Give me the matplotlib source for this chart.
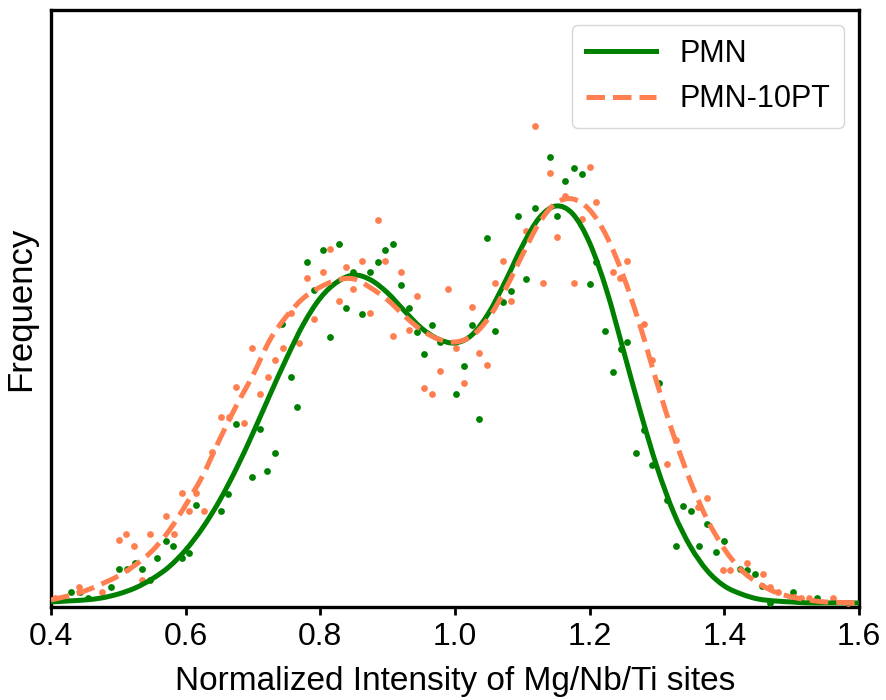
import numpy as np
import matplotlib
matplotlib.use("Agg")
from matplotlib import pyplot as plt
from matplotlib.path import Path
from matplotlib.patches import PathPatch
from matplotlib.lines import Line2D

plt.rcParams['font.family'] = ['Liberation Sans', 'DejaVu Sans']

# fitted curves, every 0.025
curve_x = [0.400, 0.425, 0.450, 0.475, 0.500, 0.525, 0.550, 0.575, 0.600, 0.625,
           0.650, 0.675, 0.700, 0.725, 0.750, 0.775, 0.800, 0.825, 0.850, 0.875,
           0.900, 0.925, 0.950, 0.975, 1.000, 1.025, 1.050, 1.075, 1.100, 1.125,
           1.150, 1.175, 1.200, 1.225, 1.250, 1.275, 1.300, 1.325, 1.350, 1.375,
           1.400, 1.425, 1.450, 1.475, 1.500, 1.525, 1.550, 1.575, 1.600]
pmn_fit = [0.1, 0.2, 0.3, 0.5, 0.9, 1.5, 2.4, 3.6, 5.3, 7.5,
           10.2, 13.4, 17.0, 20.8, 24.5, 27.9, 30.5, 32.1, 32.8, 32.3,
           31.0, 29.2, 27.5, 26.4, 26.0, 26.8, 29.0, 32.2, 35.7, 38.5,
           39.7, 38.9, 36.0, 31.3, 25.3, 19.2, 13.6, 9.0, 5.6, 3.2,
           1.7, 0.9, 0.4, 0.2, 0.1, 0.0, 0.0, 0.0, 0.0]
pt_fit = [0.3, 0.7, 1.2, 1.9, 2.7, 3.8, 5.2, 7.2, 9.8, 12.7,
          16.3, 19.7, 22.8, 26.3, 28.7, 30.5, 31.6, 32.3, 32.4, 31.5,
          30.3, 28.7, 27.3, 26.4, 26.1, 26.7, 28.5, 31.4, 34.8, 38.0,
          40.0, 40.4, 39.3, 36.7, 32.7, 27.7, 22.0, 16.7, 12.1, 8.3,
          5.4, 3.3, 2.0, 1.1, 0.6, 0.3, 0.1, 0.05, 0.0]

# histogram points
pmn_x = [0.429, 0.443, 0.455, 0.489, 0.501, 0.513, 0.524, 0.535, 0.547, 0.558,
         0.571, 0.581, 0.594, 0.605, 0.616, 0.652, 0.663, 0.675, 0.699, 0.710,
         0.721, 0.733, 0.743, 0.757, 0.766, 0.780, 0.791, 0.804, 0.815, 0.827,
         0.838, 0.849, 0.862, 0.874, 0.885, 0.896, 0.908, 0.920, 0.932, 0.943,
         0.954, 0.966, 0.978, 1.001, 1.014, 1.025, 1.036, 1.047, 1.059, 1.072,
         1.083, 1.094, 1.105, 1.119, 1.141, 1.152, 1.163, 1.177, 1.188, 1.200,
         1.209, 1.223, 1.234, 1.246, 1.256, 1.269, 1.281, 1.292, 1.303, 1.315,
         1.328, 1.339, 1.351, 1.362, 1.374, 1.388, 1.399, 1.423, 1.433, 1.445,
         1.456, 1.468, 1.502, 1.538]
pmn_y = [1.1, 1.05, 0.5, 1.6, 3.4, 3.4, 4.0, 3.4, 2.3, 4.5,
         6.2, 5.7, 4.5, 5.0, 9.8, 9.2, 10.9, 17.9, 12.6, 17.4,
         13.2, 15.0, 27.9, 22.6, 19.6, 34.1, 31.3, 35.3, 26.6, 35.9,
         29.5, 33.1, 28.9, 33.1, 34.1, 35.3, 35.9, 31.8, 29.5, 27.1,
         24.9, 27.8, 26.1, 20.9, 23.7, 27.8, 18.4, 36.5, 27.2, 30.1,
         31.2, 38.7, 32.4, 39.5, 44.6, 38.7, 42.2, 43.5, 42.9, 31.9,
         34.1, 27.2, 23.1, 25.4, 26.1, 15.0, 17.3, 13.8, 22.0, 10.3,
         5.7, 9.7, 9.2, 5.7, 7.9, 5.1, 6.2, 3.4, 3.3, 2.85,
         1.65, 0.0, 1.1, 0.5]

pt_x = [0.406, 0.442, 0.475, 0.501, 0.512, 0.523, 0.535, 0.547, 0.571, 0.582,
        0.594, 0.605, 0.616, 0.627, 0.639, 0.652, 0.664, 0.675, 0.687, 0.699,
        0.710, 0.722, 0.733, 0.744, 0.757, 0.769, 0.780, 0.791, 0.804, 0.815,
        0.827, 0.838, 0.849, 0.862, 0.874, 0.885, 0.896, 0.908, 0.920, 0.932,
        0.943, 0.954, 0.966, 0.978, 0.989, 1.001, 1.014, 1.025, 1.036, 1.047,
        1.059, 1.072, 1.083, 1.105, 1.119, 1.130, 1.141, 1.152, 1.163, 1.177,
        1.188, 1.200, 1.210, 1.234, 1.245, 1.256, 1.281, 1.292, 1.315, 1.328,
        1.361, 1.374, 1.398, 1.409, 1.433, 1.457, 1.468, 1.479, 1.503, 1.514,
        1.526, 1.561, 1.583]
pt_y = [0.5, 1.6, 1.05, 6.3, 6.9, 5.7, 2.3, 6.9, 8.65, 6.9,
        11.0, 9.2, 11.0, 9.2, 15.1, 18.6, 18.6, 21.6, 18.0, 25.5,
        20.9, 22.6, 24.3, 25.5, 29.0, 26.0, 32.5, 28.4, 33.1, 35.4,
        30.2, 33.6, 31.4, 34.2, 29.0, 38.3, 34.2, 26.7, 33.1, 27.3,
        30.7, 21.5, 20.9, 23.2, 31.4, 25.5, 22.0, 29.6, 25.0, 23.8,
        32.0, 34.2, 30.2, 37.2, 47.7, 32.0, 43.0, 36.6, 40.7, 32.0,
        38.4, 43.6, 40.1, 33.1, 32.5, 34.2, 27.9, 24.3, 13.9, 16.3,
        9.6, 10.5, 3.3, 3.3, 4.0, 2.85, 1.6, 1.1, 0.6, 0.5,
        0.5, 0.5, 0.0]

green = '#008000'
orange = '#FF7F50'


def smooth_path(xs, ys):
    # Catmull-Rom through the read points, drawn as cubic Bezier segments
    p = np.column_stack([xs, ys]).astype(float)
    p = np.vstack([p[0], p, p[-1]])
    verts = [p[1]]
    codes = [Path.MOVETO]
    for i in range(1, len(p) - 2):
        c1 = p[i] + (p[i + 1] - p[i - 1]) / 6
        c2 = p[i + 1] - (p[i + 2] - p[i]) / 6
        verts += [c1, c2, p[i + 1]]
        codes += [Path.CURVE4] * 3
    return Path(verts, codes)


fig = plt.figure(figsize=(8.86, 7.0), dpi=100)
ax = fig.add_axes([0.0576, 0.1329, 0.9119, 0.8528])

ax.scatter(pmn_x, pmn_y, s=24, color=green, zorder=3, linewidths=0)
ax.scatter(pt_x, pt_y, s=24, color=orange, zorder=3, linewidths=0)
ax.add_patch(PathPatch(smooth_path(curve_x, pmn_fit), fill=False,
                       edgecolor=green, lw=3.6, zorder=4, capstyle='butt'))
ax.add_patch(PathPatch(smooth_path(curve_x, pt_fit), fill=False,
                       edgecolor=orange, lw=3.6, ls='--', zorder=4, capstyle='butt'))

ax.set_xlim(0.4, 1.6)
ax.set_ylim(-0.4, 59.3)
ax.set_xticks([0.4, 0.6, 0.8, 1.0, 1.2, 1.4, 1.6])
ax.set_yticks([])
ax.tick_params(axis='x', labelsize=23, width=2, length=6, direction='out', pad=5)
for sp in ax.spines.values():
    sp.set_linewidth(2.4)
ax.set_xlabel('Normalized Intensity of Mg/Nb/Ti sites', fontsize=24, labelpad=10)
ax.set_ylabel('Frequency', fontsize=25, labelpad=10)

handles = [Line2D([], [], color=green, lw=3.6),
           Line2D([], [], color=orange, lw=3.6, ls='--')]
ax.legend(handles, ['PMN', 'PMN-10PT'], loc='upper right', fontsize=22,
          handlelength=2.3, handletextpad=0.75, borderpad=0.45)

fig.savefig('out.png', dpi=100)
